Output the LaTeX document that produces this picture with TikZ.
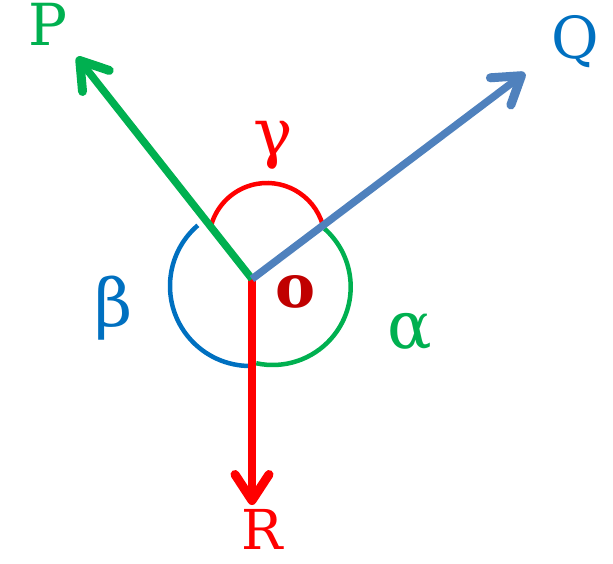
\documentclass[tikz,border=0pt]{standalone}
\usepackage{fontspec}
\setmainfont{DejaVu Serif}
\usepackage{tikz}
\usetikzlibrary{arrows.meta}
\definecolor{ForceGreen}{HTML}{00B050}
\definecolor{ForceBlue}{HTML}{4F81BD}
\definecolor{ForceRed}{HTML}{FF0000}
\definecolor{AngleBlue}{HTML}{0070C0}
\definecolor{PointRed}{HTML}{C00000}

\begin{document}
\begin{tikzpicture}[
  x=1pt, y=1pt,
  force/.style={line width=7.5pt, -{Straight Barb[round, length=26pt, width=34pt, line width=9pt]}},
  anglearc/.style={line width=4.5pt},
  lbl/.style={inner sep=0pt, font=\fontsize{58}{62}\selectfont},
  grk/.style={inner sep=0pt, font=\fontsize{66}{70}\selectfont}
]
  \useasboundingbox (-252,-285) rectangle (361,279);
  \coordinate (O) at (0,0);
  \coordinate (Ptip) at (-175,222);
  \coordinate (Qtip) at (273,206);
  \coordinate (Rtip) at (0,-226);
  % angle marks
  \draw[anglearc, ForceRed] (15,38) ++(16:58) arc[start angle=16, end angle=164, radius=58];
  \draw[anglearc, AngleBlue] (-2,-7) ++(130.7:80) arc[start angle=130.7, end angle=270, radius=80];
  \draw[anglearc, ForceGreen] (20.7,-8) ++(48.4:78) arc[start angle=48.4, end angle=-102.2, radius=78];
  % forces
  \draw[force, ForceRed] (O) -- (Rtip);
  \draw[force, ForceGreen] (O) -- (Ptip);
  \draw[force, ForceBlue] (O) -- (Qtip);
  % labels
  \node[lbl, ForceGreen] (P) at (-204,255) {P};
  \node[lbl, AngleBlue] (Q) at (323,237) {Q};
  \node[lbl, ForceRed, font=\fontsize{55}{60}\selectfont] (R) at (10,-250) {R};
  \node[lbl, PointRed, font=\fontsize{60}{64}\selectfont\bfseries] (o) at (44,-13) {o};
  \node[grk, ForceGreen] (alpha) at (158,-53) {α};
  \node[grk, AngleBlue] (beta) at (-138,-29) {β};
  \node[grk, ForceRed] (gamma) at (21,134) {γ};
\end{tikzpicture}
\end{document}
